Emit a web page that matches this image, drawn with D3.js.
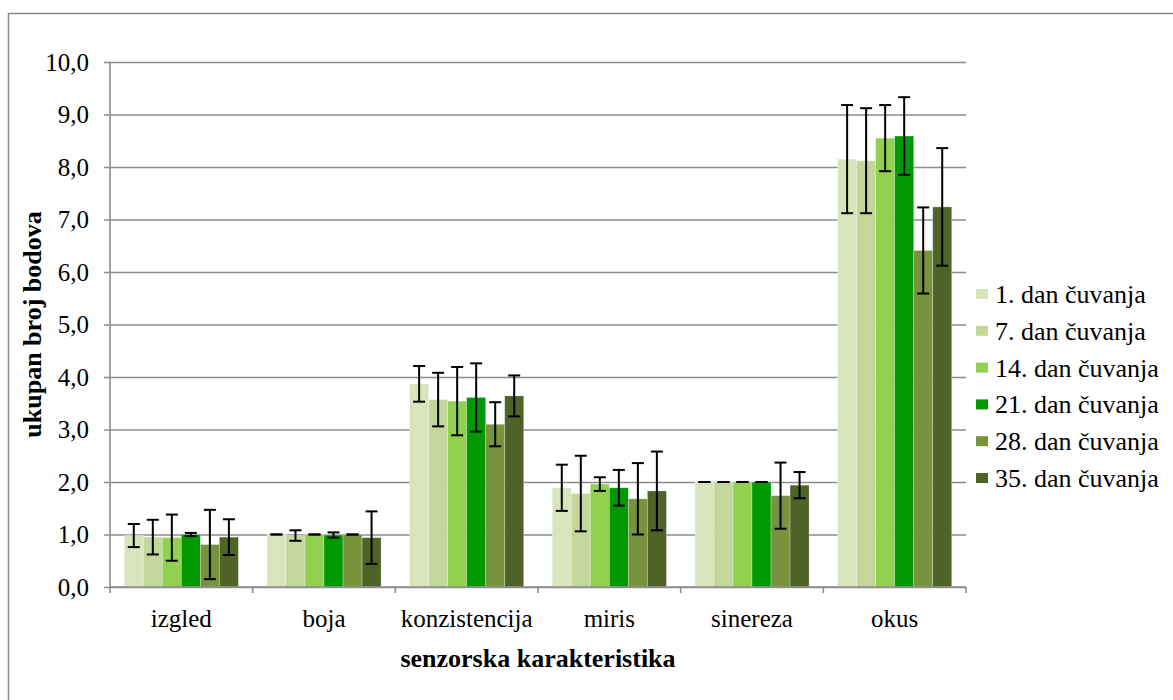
<!DOCTYPE html>
<html>
<head>
<meta charset="utf-8">
<script src="https://cdn.jsdelivr.net/npm/d3@7"></script>
<style>
  body { margin: 0; background: #fff; }
  svg text { font-family: "Liberation Serif", "Times New Roman", serif; }
</style>
</head>
<body>
<div id="chart"></div>
<script>
// categories and series
const categories = ["izgled", "boja", "konzistencija", "miris", "sinereza", "okus"];
const seriesNames = ["1. dan čuvanja", "7. dan čuvanja", "14. dan čuvanja",
  "21. dan čuvanja", "28. dan čuvanja", "35. dan čuvanja"];
const seriesColors = ["#d8e4bc", "#c4d79b", "#92d050", "#009900", "#77933c", "#4f6228"];

// mean values, one array per storage day
const dan1 = [0.98, 1.00, 3.87, 1.89, 2.00, 8.15];
const dan7 = [0.95, 0.98, 3.57, 1.78, 2.00, 8.12];
const dan14 = [0.94, 1.00, 3.54, 1.96, 2.00, 8.55];
const dan21 = [1.00, 0.99, 3.61, 1.89, 2.00, 8.59];
const dan28 = [0.81, 1.00, 3.10, 1.68, 1.74, 6.41];
const dan35 = [0.95, 0.94, 3.64, 1.83, 1.94, 7.24];

// standard deviations (error bars)
const sd1 = [0.22, 0.00, 0.34, 0.44, 0.00, 1.03];
const sd7 = [0.33, 0.10, 0.51, 0.72, 0.00, 1.00];
const sd14 = [0.44, 0.00, 0.65, 0.13, 0.00, 0.63];
const sd21 = [0.03, 0.05, 0.65, 0.34, 0.00, 0.74];
const sd28 = [0.66, 0.00, 0.42, 0.68, 0.63, 0.82];
const sd35 = [0.34, 0.50, 0.39, 0.75, 0.25, 1.12];

const yTicks = [0, 1, 2, 3, 4, 5, 6, 7, 8, 9, 10];

const means = [dan1, dan7, dan14, dan21, dan28, dan35];
const errs = [sd1, sd7, sd14, sd21, sd28, sd35];

const data = [];
categories.forEach((c, ci) => {
  seriesNames.forEach((s, si) => {
    data.push({ cat: c, series: s, value: means[si][ci], sd: errs[si][ci] });
  });
});

const width = 1173, height = 700;
const margin = { top: 62, right: 207, bottom: 113, left: 110 };
const serif = '"Liberation Serif", "Times New Roman", serif';

const svg = d3.select("#chart").append("svg")
  .attr("width", width)
  .attr("height", height);

// outer frame
svg.append("rect")
  .attr("x", 8.5).attr("y", 13.5)
  .attr("width", width + 20).attr("height", height + 20)
  .attr("fill", "none")
  .attr("stroke", "#8c8c8c")
  .attr("stroke-width", 1.5);

const x = d3.scaleBand()
  .domain(categories)
  .range([margin.left, width - margin.right])
  .padding(0);

const xInner = d3.scaleBand()
  .domain(seriesNames)
  .range([0, x.bandwidth()])
  .paddingInner(0)
  .paddingOuter(0.75);

const y = d3.scaleLinear()
  .domain([0, 10])
  .range([height - margin.bottom, margin.top]);

const color = d3.scaleOrdinal().domain(seriesNames).range(seriesColors);
const fmt = d => d3.format(".1f")(d).replace(".", ",");

// grid lines + y axis
svg.append("g")
  .attr("transform", `translate(${margin.left},0)`)
  .call(d3.axisLeft(y).tickValues(yTicks).tickFormat(fmt)
    .tickSizeInner(-(width - margin.left - margin.right)).tickSizeOuter(0))
  .call(g => g.select(".domain").remove())
  .call(g => g.selectAll(".tick line")
    .attr("stroke", "#8c8c8c").attr("stroke-width", 1.6)
    .attr("x1", -6))
  .call(g => g.selectAll(".tick text")
    .attr("x", -21)
    .attr("dy", "0.33em")
    .attr("fill", "#000")
    .style("font-family", serif)
    .style("font-size", "25px"));

// bars
svg.append("g")
  .selectAll("rect")
  .data(data)
  .join("rect")
  .attr("x", d => x(d.cat) + xInner(d.series))
  .attr("y", d => y(d.value))
  .attr("width", xInner.bandwidth())
  .attr("height", d => y(0) - y(d.value))
  .attr("fill", d => color(d.series))
  .attr("stroke", "#ffffff")
  .attr("stroke-opacity", 0.35)
  .attr("stroke-width", 0.8);

// error bars
const eb = svg.append("g")
  .attr("stroke", "#000")
  .attr("stroke-width", 2)
  .selectAll("g")
  .data(data)
  .join("g")
  .attr("transform", d => `translate(${x(d.cat) + xInner(d.series) + xInner.bandwidth() / 2},0)`);

eb.append("line")
  .attr("y1", d => y(d.value + d.sd))
  .attr("y2", d => y(d.value - d.sd));
eb.append("line")
  .attr("x1", -6).attr("x2", 6)
  .attr("y1", d => y(d.value + d.sd)).attr("y2", d => y(d.value + d.sd));
eb.append("line")
  .attr("x1", -6).attr("x2", 6)
  .attr("y1", d => y(d.value - d.sd)).attr("y2", d => y(d.value - d.sd));

// y axis line
svg.append("line")
  .attr("x1", margin.left).attr("x2", margin.left)
  .attr("y1", y(10)).attr("y2", y(0))
  .attr("stroke", "#8c8c8c").attr("stroke-width", 1.6);

// x axis
const tickPos = categories.map(c => x(c)).concat([x.range()[1]]);
svg.append("line")
  .attr("x1", margin.left).attr("x2", width - margin.right)
  .attr("y1", y(0)).attr("y2", y(0))
  .attr("stroke", "#8c8c8c").attr("stroke-width", 1.6);
svg.append("g")
  .selectAll("line")
  .data(tickPos)
  .join("line")
  .attr("x1", d => d).attr("x2", d => d)
  .attr("y1", y(0)).attr("y2", y(0) + 6)
  .attr("stroke", "#8c8c8c").attr("stroke-width", 1.6);

svg.append("g")
  .selectAll("text")
  .data(categories)
  .join("text")
  .attr("x", d => x(d) + x.bandwidth() / 2)
  .attr("y", 627)
  .attr("text-anchor", "middle")
  .style("font-size", "25px")
  .text(d => d);

// axis titles
svg.append("text")
  .attr("x", (margin.left + width - margin.right) / 2)
  .attr("y", 667)
  .attr("text-anchor", "middle")
  .style("font-size", "26px")
  .attr("font-weight", "bold")
  .text("senzorska karakteristika");

svg.append("text")
  .attr("transform", `translate(41,${(y(0) + y(10)) / 2}) rotate(-90)`)
  .attr("text-anchor", "middle")
  .style("font-size", "26px")
  .attr("font-weight", "bold")
  .text("ukupan broj bodova");

// legend
const legend = svg.append("g")
  .selectAll("g")
  .data(seriesNames)
  .join("g")
  .attr("transform", (d, i) => `translate(976,${294 + i * 36.8})`);

legend.append("rect")
  .attr("x", 0).attr("y", -5)
  .attr("width", 12).attr("height", 10)
  .attr("fill", d => color(d));

legend.append("text")
  .attr("x", 19).attr("y", 9)
  .style("font-size", "26px")
  .text(d => d);
</script>
</body>
</html>
